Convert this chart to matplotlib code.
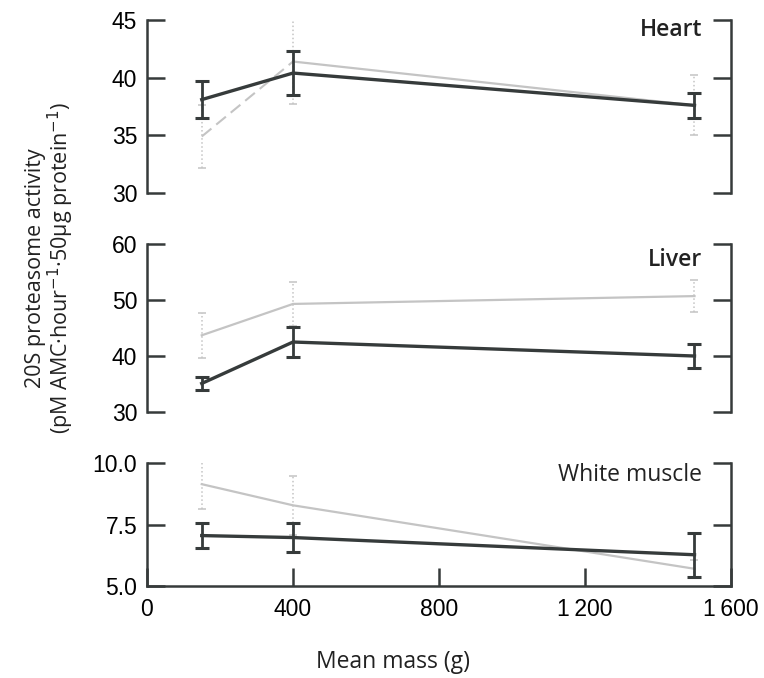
import matplotlib
matplotlib.use('Agg')
import matplotlib.pyplot as plt

# mean body mass groups (g)
mass = [150, 400, 1500]

# 20S proteasome activity, dark series / light series, with error bars
heart_dark = [38.1, 40.4, 37.6]
heart_dark_err = [1.6, 1.9, 1.1]
heart_light = [34.9, 41.4, 37.6]
heart_light_err = [2.7, 3.7, 2.6]

liver_dark = [35.1, 42.5, 40.0]
liver_dark_err = [1.1, 2.6, 2.1]
liver_light = [43.7, 49.3, 50.7]
liver_light_err = [4.0, 3.9, 2.9]

muscle_dark = [7.05, 6.97, 6.27]
muscle_dark_err = [0.5, 0.6, 0.9]
muscle_light = [9.14, 8.28, 5.70]
muscle_light_err = [1.0, 1.2, 0.35]

panel_names = ['Heart', 'Liver', 'White muscle']
panel_ylims = [(30, 45), (30, 60), (5, 10)]
panel_yticks = [[30, 35, 40, 45], [30, 40, 50, 60], [5.0, 7.5, 10.0]]
panel_ylabels = [['30', '35', '40', '45'], ['30', '40', '50', '60'], ['5.0', '7.5', '10.0']]
xticks = [0, 400, 800, 1200, 1600]
xticklabels = ['0', '400', '800', '1\u2009200', '1\u2009600']

DARK = '#363b3b'
LIGHT = '#c4c4c4'
TICK_FONT = ['Liberation Sans Narrow', 'Liberation Sans', 'DejaVu Sans']
TEXT_FONT = ['Open Sans', 'DejaVu Sans']

fig = plt.figure(figsize=(7.64, 6.78), dpi=100)
left, width = 0.1924, 0.7644
boxes = [(0.7153, 0.2552), (0.3923, 0.2478), (0.1357, 0.1814)]
label_y = [0.94, 0.905, 0.90]
series = [
    (heart_dark, heart_dark_err, heart_light, heart_light_err),
    (liver_dark, liver_dark_err, liver_light, liver_light_err),
    (muscle_dark, muscle_dark_err, muscle_light, muscle_light_err),
]

for i, ((bottom, height), (d, de, l, le)) in enumerate(zip(boxes, series)):
    ax = fig.add_axes([left, bottom, width, height])
    # light series first, error bars dotted
    eb = ax.errorbar(mass, l, yerr=le, fmt='none', ecolor=LIGHT, elinewidth=1.1,
                     capsize=3, capthick=1.1, zorder=2)
    eb[2][0].set_linestyle(':')
    if i == 0:
        ax.plot(mass[:2], l[:2], color=LIGHT, lw=1.5, ls=(0, (6, 3)), zorder=2)
        ax.plot(mass[1:], l[1:], color=LIGHT, lw=1.6, zorder=2)
    else:
        ax.plot(mass, l, color=LIGHT, lw=1.6, zorder=2)
    ax.errorbar(mass, d, yerr=de, color=DARK, lw=2.4, elinewidth=2.0,
                capsize=5, capthick=2.2, zorder=3)

    ax.set_xlim(0, 1600)
    ax.set_ylim(*panel_ylims[i])
    ax.set_yticks(panel_yticks[i])
    ax.set_yticklabels(panel_ylabels[i], family=TICK_FONT, fontsize=16.5)
    ax.tick_params(axis='y', direction='in', length=13, width=1.8, color=DARK,
                   left=True, right=True, pad=7)
    for s in ['left', 'right', 'bottom']:
        ax.spines[s].set_linewidth(1.8)
        ax.spines[s].set_color(DARK)
    ax.spines['top'].set_visible(False)
    if i < 2:
        ax.spines['bottom'].set_visible(False)
        ax.set_xticks([])
    else:
        ax.set_xticks(xticks)
        ax.set_xticklabels(xticklabels, family=TICK_FONT, fontsize=16.5)
        ax.tick_params(axis='x', direction='in', length=13, width=1.8, color=DARK, pad=9)
    weight = 'semibold' if i < 2 else 'normal'
    ax.text(0.95, label_y[i], panel_names[i], transform=ax.transAxes,
            ha='right', va='center', family=TEXT_FONT, fontsize=16.5, weight=weight, color='#222222')
    ax.patch.set_visible(False)

fig.text(0.514, 0.024, 'Mean mass (g)', ha='center', va='center',
         family=TEXT_FONT, fontsize=16.5, color='#222222')
fig.text(0.046, 0.605, '20S proteasome activity', rotation=90, ha='center', va='center',
         family=TEXT_FONT, fontsize=15.5, color='#222222')
fig.text(0.080, 0.605, '(pM AMC\u00b7hour$^{-1}$\u00b750\u03bcg protein$^{-1}$)', rotation=90,
         ha='center', va='center', family=TEXT_FONT, fontsize=15.5, color='#222222')

fig.savefig('out.png', dpi=100)
